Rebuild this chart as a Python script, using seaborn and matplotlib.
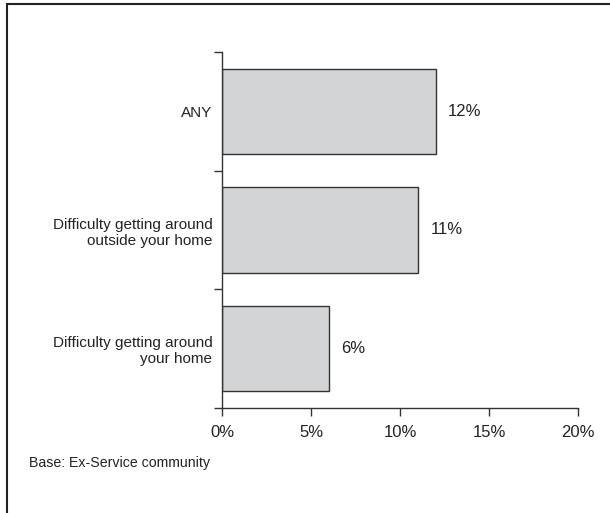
import matplotlib
matplotlib.use('Agg')
import matplotlib.pyplot as plt
from matplotlib.patches import Rectangle
from matplotlib.ticker import FixedLocator
import seaborn as sns
import pandas as pd

categories = ['ANY',
              'Difficulty getting around\noutside your home',
              'Difficulty getting around\nyour home']
values = [12, 11, 6]
x_ticks = [0, 5, 10, 15, 20]
x_tick_labels = ['0%', '5%', '10%', '15%', '20%']
base_note = 'Base: Ex-Service community'

sns.set_style('white')
plt.rcParams['font.family'] = ['Liberation Sans', 'DejaVu Sans']

df = pd.DataFrame({'category': categories, 'value': values})

fig = plt.figure(figsize=(6.1, 5.13), dpi=100)
ax = fig.add_axes([222 / 610, 1 - 408 / 513, 356 / 610, 356 / 513])

sns.barplot(data=df, x='value', y='category', orient='h', color='#d3d4d6',
            edgecolor='#333333', linewidth=1.0, width=0.72, saturation=1, ax=ax)

ax.set_xlim(0, 20)
ax.set_ylim(2.5, -0.5)
ax.set_xticks(x_ticks)
ax.set_xticklabels(x_tick_labels, fontsize=12, color='#222222')
ax.tick_params(axis='x', direction='out', length=6, width=1, color='#333333',
               pad=6, bottom=True)
ax.tick_params(axis='y', which='major', length=0, pad=7, labelsize=11,
               labelcolor='#222222')
ax.yaxis.set_minor_locator(FixedLocator([-0.5, 0.5, 1.5, 2.5]))
ax.tick_params(axis='y', which='minor', direction='out', length=6, width=1,
               color='#333333', left=True)
ax.set_xlabel('')
ax.set_ylabel('')

for side in ['top', 'right']:
    ax.spines[side].set_visible(False)
for side in ['left', 'bottom']:
    ax.spines[side].set_color('#333333')
    ax.spines[side].set_linewidth(1)

ax.bar_label(ax.containers[0], labels=[f'{v}%' for v in values],
             padding=9, fontsize=12, color='#222222')

fig.text(29 / 610, 1 - 463 / 513, base_note, fontsize=10.2, color='#222222',
         va='center', ha='left')

fig.patches.append(Rectangle((7 / 610, -0.1), 1.2, 1.1 - 4.5 / 513,
                             transform=fig.transFigure, fill=False,
                             edgecolor='#222222', linewidth=1.5))

fig.savefig('out.png', dpi=100)
